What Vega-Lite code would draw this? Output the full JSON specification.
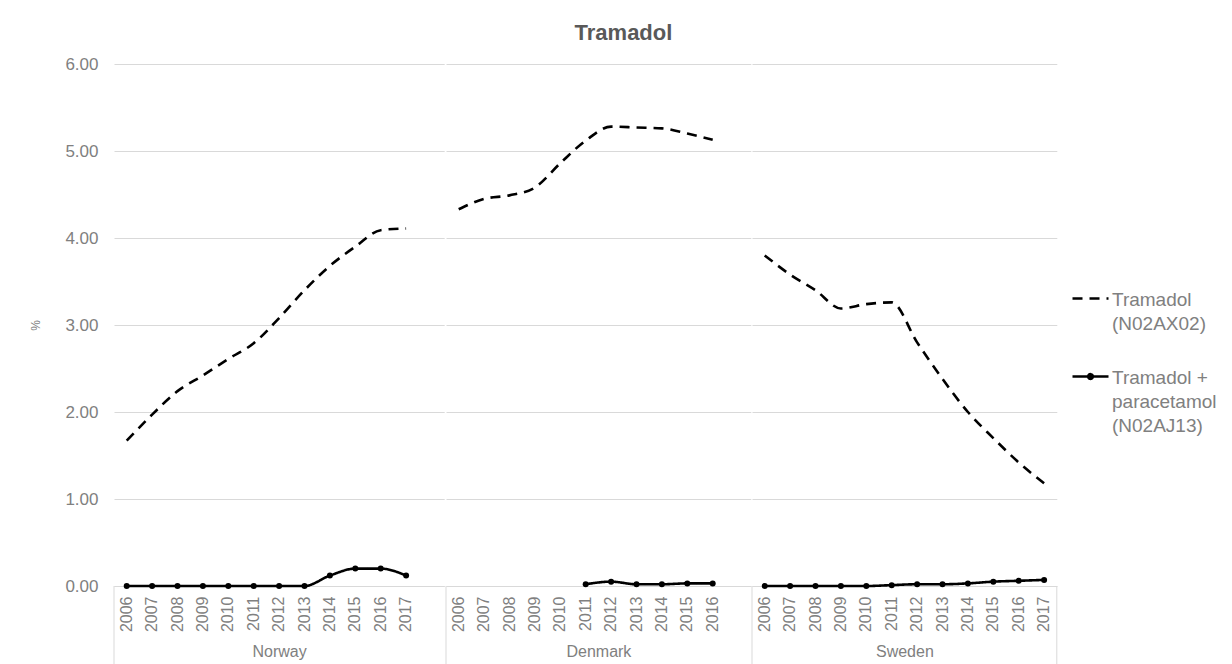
{
  "$schema": "https://vega.github.io/schema/vega-lite/v6.json",
  "background": "white",
  "padding": {"left": 29, "top": 22, "right": 5, "bottom": 0},
  "title": {"text": "Tramadol", "fontSize": 22, "fontWeight": "bold", "color": "#595959", "offset": 10, "anchor": "middle"},
  "datasets": {
    "rx": [
      {"country": "Norway", "year": "2006", "series": "Tramadol (N02AX02)", "value": 1.67},
      {"country": "Norway", "year": "2007", "series": "Tramadol (N02AX02)", "value": 1.97},
      {"country": "Norway", "year": "2008", "series": "Tramadol (N02AX02)", "value": 2.24},
      {"country": "Norway", "year": "2009", "series": "Tramadol (N02AX02)", "value": 2.42},
      {"country": "Norway", "year": "2010", "series": "Tramadol (N02AX02)", "value": 2.61},
      {"country": "Norway", "year": "2011", "series": "Tramadol (N02AX02)", "value": 2.79},
      {"country": "Norway", "year": "2012", "series": "Tramadol (N02AX02)", "value": 3.08},
      {"country": "Norway", "year": "2013", "series": "Tramadol (N02AX02)", "value": 3.40},
      {"country": "Norway", "year": "2014", "series": "Tramadol (N02AX02)", "value": 3.68},
      {"country": "Norway", "year": "2015", "series": "Tramadol (N02AX02)", "value": 3.90},
      {"country": "Norway", "year": "2016", "series": "Tramadol (N02AX02)", "value": 4.09},
      {"country": "Norway", "year": "2017", "series": "Tramadol (N02AX02)", "value": 4.11},
      {"country": "Norway", "year": "2006", "series": "Tramadol + paracetamol (N02AJ13)", "value": 0.0},
      {"country": "Norway", "year": "2007", "series": "Tramadol + paracetamol (N02AJ13)", "value": 0.0},
      {"country": "Norway", "year": "2008", "series": "Tramadol + paracetamol (N02AJ13)", "value": 0.0},
      {"country": "Norway", "year": "2009", "series": "Tramadol + paracetamol (N02AJ13)", "value": 0.0},
      {"country": "Norway", "year": "2010", "series": "Tramadol + paracetamol (N02AJ13)", "value": 0.0},
      {"country": "Norway", "year": "2011", "series": "Tramadol + paracetamol (N02AJ13)", "value": 0.0},
      {"country": "Norway", "year": "2012", "series": "Tramadol + paracetamol (N02AJ13)", "value": 0.0},
      {"country": "Norway", "year": "2013", "series": "Tramadol + paracetamol (N02AJ13)", "value": 0.0},
      {"country": "Norway", "year": "2014", "series": "Tramadol + paracetamol (N02AJ13)", "value": 0.12},
      {"country": "Norway", "year": "2015", "series": "Tramadol + paracetamol (N02AJ13)", "value": 0.20},
      {"country": "Norway", "year": "2016", "series": "Tramadol + paracetamol (N02AJ13)", "value": 0.20},
      {"country": "Norway", "year": "2017", "series": "Tramadol + paracetamol (N02AJ13)", "value": 0.12},
      {"country": "Denmark", "year": "2006", "series": "Tramadol (N02AX02)", "value": 4.33},
      {"country": "Denmark", "year": "2007", "series": "Tramadol (N02AX02)", "value": 4.45},
      {"country": "Denmark", "year": "2008", "series": "Tramadol (N02AX02)", "value": 4.49},
      {"country": "Denmark", "year": "2009", "series": "Tramadol (N02AX02)", "value": 4.58},
      {"country": "Denmark", "year": "2010", "series": "Tramadol (N02AX02)", "value": 4.86},
      {"country": "Denmark", "year": "2011", "series": "Tramadol (N02AX02)", "value": 5.12},
      {"country": "Denmark", "year": "2012", "series": "Tramadol (N02AX02)", "value": 5.28},
      {"country": "Denmark", "year": "2013", "series": "Tramadol (N02AX02)", "value": 5.27},
      {"country": "Denmark", "year": "2014", "series": "Tramadol (N02AX02)", "value": 5.26},
      {"country": "Denmark", "year": "2015", "series": "Tramadol (N02AX02)", "value": 5.20},
      {"country": "Denmark", "year": "2016", "series": "Tramadol (N02AX02)", "value": 5.13},
      {"country": "Denmark", "year": "2011", "series": "Tramadol + paracetamol (N02AJ13)", "value": 0.02},
      {"country": "Denmark", "year": "2012", "series": "Tramadol + paracetamol (N02AJ13)", "value": 0.05},
      {"country": "Denmark", "year": "2013", "series": "Tramadol + paracetamol (N02AJ13)", "value": 0.02},
      {"country": "Denmark", "year": "2014", "series": "Tramadol + paracetamol (N02AJ13)", "value": 0.02},
      {"country": "Denmark", "year": "2015", "series": "Tramadol + paracetamol (N02AJ13)", "value": 0.03},
      {"country": "Denmark", "year": "2016", "series": "Tramadol + paracetamol (N02AJ13)", "value": 0.03},
      {"country": "Sweden", "year": "2006", "series": "Tramadol (N02AX02)", "value": 3.80},
      {"country": "Sweden", "year": "2007", "series": "Tramadol (N02AX02)", "value": 3.58},
      {"country": "Sweden", "year": "2008", "series": "Tramadol (N02AX02)", "value": 3.40},
      {"country": "Sweden", "year": "2009", "series": "Tramadol (N02AX02)", "value": 3.19},
      {"country": "Sweden", "year": "2010", "series": "Tramadol (N02AX02)", "value": 3.24},
      {"country": "Sweden", "year": "2011", "series": "Tramadol (N02AX02)", "value": 3.26},
      {"country": "Sweden", "year": "2012", "series": "Tramadol (N02AX02)", "value": 2.80},
      {"country": "Sweden", "year": "2013", "series": "Tramadol (N02AX02)", "value": 2.38},
      {"country": "Sweden", "year": "2014", "series": "Tramadol (N02AX02)", "value": 2.00},
      {"country": "Sweden", "year": "2015", "series": "Tramadol (N02AX02)", "value": 1.70},
      {"country": "Sweden", "year": "2016", "series": "Tramadol (N02AX02)", "value": 1.42},
      {"country": "Sweden", "year": "2017", "series": "Tramadol (N02AX02)", "value": 1.18},
      {"country": "Sweden", "year": "2006", "series": "Tramadol + paracetamol (N02AJ13)", "value": 0.0},
      {"country": "Sweden", "year": "2007", "series": "Tramadol + paracetamol (N02AJ13)", "value": 0.0},
      {"country": "Sweden", "year": "2008", "series": "Tramadol + paracetamol (N02AJ13)", "value": 0.0},
      {"country": "Sweden", "year": "2009", "series": "Tramadol + paracetamol (N02AJ13)", "value": 0.0},
      {"country": "Sweden", "year": "2010", "series": "Tramadol + paracetamol (N02AJ13)", "value": 0.0},
      {"country": "Sweden", "year": "2011", "series": "Tramadol + paracetamol (N02AJ13)", "value": 0.01},
      {"country": "Sweden", "year": "2012", "series": "Tramadol + paracetamol (N02AJ13)", "value": 0.02},
      {"country": "Sweden", "year": "2013", "series": "Tramadol + paracetamol (N02AJ13)", "value": 0.02},
      {"country": "Sweden", "year": "2014", "series": "Tramadol + paracetamol (N02AJ13)", "value": 0.03},
      {"country": "Sweden", "year": "2015", "series": "Tramadol + paracetamol (N02AJ13)", "value": 0.05},
      {"country": "Sweden", "year": "2016", "series": "Tramadol + paracetamol (N02AJ13)", "value": 0.06},
      {"country": "Sweden", "year": "2017", "series": "Tramadol + paracetamol (N02AJ13)", "value": 0.07}
    ]
  },
  "spacing": 0,
  "hconcat": [
    {
      "width": 330.2,
      "height": 522,
      "data": {"name": "rx"},
      "transform": [{"filter": "datum.country == 'Norway'"}],
      "encoding": {
        "x": {
          "field": "year", "type": "ordinal",
          "scale": {"type": "band", "domain": ["2006","2007","2008","2009","2010","2011","2012","2013","2014","2015","2016","2017",""], "paddingInner": 0, "paddingOuter": 0},
          "axis": {"title": "Norway"}
        },
        "y": {
          "field": "value", "type": "quantitative",
          "scale": {"domain": [0, 6], "nice": false},
          "axis": {"title": "%", "titleFontSize": 12, "titleFontWeight": "normal", "titleColor": "#808080", "titlePadding": 22, "format": ".2f", "values": [0,1,2,3,4,5,6], "labelFontSize": 17, "labelColor": "#808080", "labelPadding": 16, "domain": false, "ticks": false, "grid": true}
        }
      },
      "layer": [
        {
          "mark": {"type": "line", "interpolate": "monotone", "color": "black", "strokeWidth": 2.6},
          "encoding": {"strokeDash": {"field": "series", "type": "nominal", "scale": {"domain": ["Tramadol (N02AX02)", "Tramadol + paracetamol (N02AJ13)"], "range": [[10, 7], [1, 0]]},
            "legend": {
              "orient": "none", "legendX": 957, "legendY": 215,
              "rowPadding": 23,
              "labelExpr": "datum.value == 'Tramadol (N02AX02)' ? ['Tramadol', '(N02AX02)'] : ['Tramadol +', 'paracetamol', '(N02AJ13)']",
              "encode": {"symbols": {"update": {"shape": {"signal": "datum.value == 'Tramadol (N02AX02)' ? 'stroke' : 'M-1,0H1M0.13,0A0.13,0.13,0,1,1,-0.13,0A0.13,0.13,0,1,1,0.13,0Z'"}}}, "labels": {"update": {"dy": {"value": -8}, "lineHeight": {"value": 24}}}}
            }}}
        },
        {
          "transform": [{"filter": "datum.series == 'Tramadol + paracetamol (N02AJ13)'"}],
          "mark": {"type": "point", "filled": true, "shape": "circle", "size": 36, "color": "black", "opacity": 1}
        },
        {
          "transform": [{"filter": "datum.year == '2006' && datum.series == 'Tramadol (N02AX02)'"}],
          "mark": {"type": "rule", "color": "#d9d9d9", "strokeWidth": 1},
          "encoding": {"x": {"datum": "2006", "type": "ordinal", "bandPosition": 0}, "y": {"datum": 0}, "y2": {"datum": -0.9}}
        }
      ]
    },
    {
      "width": 304.8,
      "height": 522,
      "data": {"name": "rx"},
      "transform": [{"filter": "datum.country == 'Denmark'"}],
      "encoding": {
        "x": {
          "field": "year", "type": "ordinal",
          "scale": {"type": "band", "domain": ["2006","2007","2008","2009","2010","2011","2012","2013","2014","2015","2016",""], "paddingInner": 0, "paddingOuter": 0},
          "axis": {"title": "Denmark"}
        },
        "y": {
          "field": "value", "type": "quantitative",
          "scale": {"domain": [0, 6], "nice": false},
          "axis": {"title": null, "labels": false, "values": [0,1,2,3,4,5,6], "domain": false, "ticks": false, "grid": true}
        }
      },
      "layer": [
        {
          "mark": {"type": "line", "interpolate": "monotone", "color": "black", "strokeWidth": 2.6},
          "encoding": {"strokeDash": {"field": "series", "type": "nominal", "scale": {"domain": ["Tramadol (N02AX02)", "Tramadol + paracetamol (N02AJ13)"], "range": [[10, 7], [1, 0]]},
            "legend": {
              "orient": "none", "legendX": 957, "legendY": 215,
              "rowPadding": 23,
              "labelExpr": "datum.value == 'Tramadol (N02AX02)' ? ['Tramadol', '(N02AX02)'] : ['Tramadol +', 'paracetamol', '(N02AJ13)']",
              "encode": {"symbols": {"update": {"shape": {"signal": "datum.value == 'Tramadol (N02AX02)' ? 'stroke' : 'M-1,0H1M0.13,0A0.13,0.13,0,1,1,-0.13,0A0.13,0.13,0,1,1,0.13,0Z'"}}}, "labels": {"update": {"dy": {"value": -8}, "lineHeight": {"value": 24}}}}
            }}}
        },
        {
          "transform": [{"filter": "datum.series == 'Tramadol + paracetamol (N02AJ13)'"}],
          "mark": {"type": "point", "filled": true, "shape": "circle", "size": 36, "color": "black", "opacity": 1}
        },
        {
          "transform": [{"filter": "datum.year == '2006' && datum.series == 'Tramadol (N02AX02)'"}],
          "mark": {"type": "rule", "color": "#d9d9d9", "strokeWidth": 1},
          "encoding": {"x": {"datum": "2006", "type": "ordinal", "bandPosition": 0}, "y": {"datum": 0}, "y2": {"datum": -0.9}}
        }
      ]
    },
    {
      "width": 304.8,
      "height": 522,
      "data": {"name": "rx"},
      "transform": [{"filter": "datum.country == 'Sweden'"}],
      "encoding": {
        "x": {
          "field": "year", "type": "ordinal",
          "scale": {"type": "band", "domain": ["2006","2007","2008","2009","2010","2011","2012","2013","2014","2015","2016","2017"], "paddingInner": 0, "paddingOuter": 0},
          "axis": {"title": "Sweden"}
        },
        "y": {
          "field": "value", "type": "quantitative",
          "scale": {"domain": [0, 6], "nice": false},
          "axis": {"title": null, "labels": false, "values": [0,1,2,3,4,5,6], "domain": false, "ticks": false, "grid": true}
        }
      },
      "layer": [
        {
          "mark": {"type": "line", "interpolate": "monotone", "color": "black", "strokeWidth": 2.6},
          "encoding": {"strokeDash": {"field": "series", "type": "nominal", "scale": {"domain": ["Tramadol (N02AX02)", "Tramadol + paracetamol (N02AJ13)"], "range": [[10, 7], [1, 0]]},
            "legend": {
              "orient": "none", "legendX": 957, "legendY": 215,
              "rowPadding": 23,
              "labelExpr": "datum.value == 'Tramadol (N02AX02)' ? ['Tramadol', '(N02AX02)'] : ['Tramadol +', 'paracetamol', '(N02AJ13)']",
              "encode": {"symbols": {"update": {"shape": {"signal": "datum.value == 'Tramadol (N02AX02)' ? 'stroke' : 'M-1,0H1M0.13,0A0.13,0.13,0,1,1,-0.13,0A0.13,0.13,0,1,1,0.13,0Z'"}}}, "labels": {"update": {"dy": {"value": -8}, "lineHeight": {"value": 24}}}}
            }}}
        },
        {
          "transform": [{"filter": "datum.series == 'Tramadol + paracetamol (N02AJ13)'"}],
          "mark": {"type": "point", "filled": true, "shape": "circle", "size": 36, "color": "black", "opacity": 1}
        },
        {
          "transform": [{"filter": "datum.year == '2006' && datum.series == 'Tramadol (N02AX02)'"}],
          "mark": {"type": "rule", "color": "#d9d9d9", "strokeWidth": 1},
          "encoding": {"x": {"datum": "2006", "type": "ordinal", "bandPosition": 0}, "y": {"datum": 0}, "y2": {"datum": -0.9}}
        },
        {
          "transform": [{"filter": "datum.year == '2006' && datum.series == 'Tramadol (N02AX02)'"}],
          "mark": {"type": "rule", "color": "#d9d9d9", "strokeWidth": 1},
          "encoding": {"x": {"datum": "2017", "type": "ordinal", "bandPosition": 1}, "y": {"datum": 0}, "y2": {"datum": -0.9}}
        }
      ]
    }
  ],
  "config": {
    "font": "Liberation Sans",
    "view": {"stroke": null},
    "axis": {"gridColor": "#d9d9d9", "gridWidth": 1},
    "axisX": {"labelAngle": 270, "labelFontSize": 16, "labelColor": "#808080", "labelPadding": 10, "ticks": false, "domainColor": "#d9d9d9", "domainWidth": 1, "titleFontSize": 16, "titleFontWeight": "normal", "titleColor": "#808080", "titlePadding": 12, "grid": false},
    "legend": {
      "title": null,
      "symbolType": "stroke",
      "symbolSize": 1296,
      "symbolStrokeWidth": 2.6,
      "symbolStrokeColor": "black",
      "symbolFillColor": "black",
      "labelFontSize": 19,
      "labelColor": "#808080",
      "labelLimit": 0,
      "labelOffset": 2,
      "labelBaseline": "top"
    }
  }
}
